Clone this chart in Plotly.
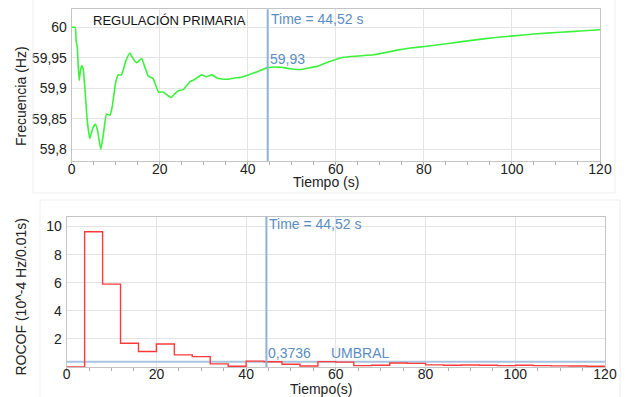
import numpy as np
import plotly.graph_objects as go

# Frequency response (primary regulation)
t_freq = [0, 0.8, 1.0, 1.15, 1.3, 1.45, 1.7, 2.0, 2.3, 2.6, 3.0, 3.5, 4.1, 4.8, 5.4, 5.9,
          6.6, 7.2, 7.9, 8.7, 9.2, 10.0, 10.6, 11.3, 12.3, 13.2, 14.0, 14.8, 15.9, 16.6,
          17.4, 18.5, 19.7, 20.8, 21.7, 22.6, 23.4, 24.2, 25.3, 26.9, 27.8, 28.6, 29.5,
          30.6, 31.8, 32.6, 33.3, 34.5, 35.6, 37.0, 38.3, 40.1, 41.3, 42.4, 44.5, 46.6,
          48.2, 49.6, 51.9, 53.5, 55.7, 57.8, 59.8, 61.7, 65.0, 68.5, 71.5, 74.2, 76.9,
          80.7, 86.0, 91.3, 95.8, 100.4, 104.9, 111.0, 115.5, 120.0]
f_freq = [60.0, 60.0, 59.978, 59.972, 59.966, 59.94, 59.913, 59.93, 59.937, 59.932, 59.9,
          59.85, 59.818, 59.835, 59.841, 59.83, 59.80, 59.825, 59.858, 59.856, 59.87,
          59.91, 59.922, 59.922, 59.945, 59.958, 59.948, 59.942, 59.949, 59.935, 59.920,
          59.916, 59.894, 59.894, 59.889, 59.885, 59.891, 59.896, 59.898, 59.911, 59.914,
          59.918, 59.922, 59.919, 59.922, 59.919, 59.916, 59.915, 59.915, 59.917, 59.918,
          59.922, 59.925, 59.928, 59.934, 59.935, 59.934, 59.932, 59.931, 59.933, 59.936,
          59.942, 59.947, 59.951, 59.953, 59.955, 59.959, 59.963, 59.966, 59.969, 59.974,
          59.979, 59.983, 59.986, 59.989, 59.992, 59.994, 59.996]

# ROCOF steps (value holds from each edge to the next)
t_rocof = [0, 4, 8, 12, 16, 20, 24, 28, 32, 36, 40, 44, 48, 52, 56, 60, 64, 68, 72, 76,
           80, 84, 88, 92, 96, 100, 104, 108, 112, 116, 120]
rocof = [0, 9.63, 5.9, 1.69, 1.1, 1.64, 0.86, 0.74, 0.22, 0.05, 0.42, 0.37, 0.2, 0.07,
         0.38, 0.35, 0.1, 0.12, 0.28, 0.26, 0.15, 0.12, 0.14, 0.12, 0.1, 0.12, 0.1, 0.08,
         0.07, 0.05, 0.05]

cursor_time = 44.52
umbral = 0.3736

freq_ticks = [59.8, 59.85, 59.9, 59.95, 60]
rocof_ticks = [2, 4, 6, 8, 10]
time_ticks = [0, 20, 40, 60, 80, 100, 120]

FONT = "Liberation Sans, Arial, sans-serif"
TXT = "#222222"
BLUE = "#5a8dc2"
CURSOR = "#8cb2d8"
GRID = "#e4e4e4"
FRAME = "#c4c4c4"

def fmt(v, nd):
    return f"{v:.{nd}f}".replace(".", ",")

f_at_cursor = float(np.interp(cursor_time, t_freq, f_freq))

fig = go.Figure()
fig.add_trace(go.Scatter(x=t_freq, y=f_freq, mode="lines",
                         line=dict(color="#3cf23c", width=1.6, shape="spline", smoothing=0.4),
                         xaxis="x", yaxis="y", hoverinfo="skip"))
fig.add_trace(go.Scatter(x=[0, 120], y=[umbral, umbral], mode="lines", line=dict(color="#a8c3e0", width=2.2),
                         xaxis="x2", yaxis="y2", hoverinfo="skip"))
fig.add_trace(go.Scatter(x=t_rocof, y=rocof, mode="lines", line=dict(color="#ff3a3a", width=1.4, shape="hv"),
                         xaxis="x2", yaxis="y2", hoverinfo="skip"))

axis_common = dict(showgrid=True, gridcolor=GRID, gridwidth=1, zeroline=False, showline=True,
                   linecolor=FRAME, linewidth=1, mirror=True, ticks="outside", ticklen=0,
                   automargin=False, tickfont=dict(family=FONT, size=14, color=TXT))
minor_x = dict(ticks="outside", ticklen=3, tickcolor="#b0b0b0", dtick=5, showgrid=False)

fig.update_layout(
    template="none",
    width=627, height=397, margin=dict(l=0, r=0, t=0, b=0, autoexpand=False),
    paper_bgcolor="white", plot_bgcolor="white", showlegend=False,
    separators=", ",
    xaxis=dict(domain=[71.7 / 627, 600 / 627], anchor="y", range=[0, 120], tickvals=time_ticks,
               minor=minor_x, ticklabelstandoff=-5, **axis_common),
    yaxis=dict(domain=[1 - 161 / 397, 1 - 9.3 / 397], anchor="x", range=[59.781, 60.0295],
               tickvals=freq_ticks, ticklabelstandoff=1, **axis_common),
    xaxis2=dict(domain=[66.7 / 627, 605 / 627], anchor="y2", range=[0, 120], tickvals=time_ticks,
                minor=minor_x, ticklabelstandoff=-6, **axis_common),
    yaxis2=dict(domain=[1 - 367 / 397, 1 - 216.7 / 397], anchor="x2", range=[0, 10.7],
                tickvals=rocof_ticks, ticklabelstandoff=1, **axis_common),
)

# faint panel outlines
fig.add_shape(type="rect", xref="paper", yref="paper", x0=33 / 627, x1=615 / 627,
              y0=1 - 193 / 397, y1=1.01, line=dict(color="#efefef", width=1))
fig.add_shape(type="rect", xref="paper", yref="paper", x0=40 / 627, x1=620 / 627,
              y0=-0.01, y1=1 - 200 / 397, line=dict(color="#efefef", width=1))

# time cursors
fig.add_shape(type="line", xref="x", yref="paper", x0=cursor_time, x1=cursor_time,
              y0=1 - 161 / 397, y1=1 - 9.3 / 397, line=dict(color=CURSOR, width=2))
fig.add_shape(type="line", xref="x2", yref="paper", x0=cursor_time, x1=cursor_time,
              y0=1 - 367 / 397, y1=1 - 216.7 / 397, line=dict(color=CURSOR, width=2))

ann_font = dict(family=FONT, size=14, color=BLUE)
cursor_txt = f"Time = {fmt(cursor_time, 2)} s"
annotations = [
    dict(text="REGULACIÓN PRIMARIA", xref="x", yref="paper", x=4.4, y=1 - 20.5 / 397,
         xanchor="left", yanchor="middle", showarrow=False, font=dict(family=FONT, size=13, color="#111111")),
    dict(text=cursor_txt, xref="x", yref="paper", x=cursor_time, y=1 - 18.5 / 397,
         xanchor="left", yanchor="middle", xshift=1, showarrow=False, font=ann_font),
    dict(text=fmt(f_at_cursor, 2), xref="x", yref="y", x=cursor_time, y=f_at_cursor,
         xanchor="left", yanchor="bottom", xshift=0, yshift=-1, showarrow=False, font=ann_font),
    dict(text=cursor_txt, xref="x2", yref="paper", x=cursor_time, y=1 - 224 / 397,
         xanchor="left", yanchor="middle", xshift=1, showarrow=False, font=ann_font),
    dict(text=fmt(umbral, 4), xref="x2", yref="y2", x=cursor_time, y=umbral,
         xanchor="left", yanchor="bottom", xshift=0, yshift=-1, showarrow=False, font=ann_font),
    dict(text="UMBRAL", xref="x2", yref="y2", x=58.4, y=umbral,
         xanchor="left", yanchor="bottom", yshift=-1, showarrow=False, font=ann_font),
    dict(text="Tiempo (s)", xref="paper", yref="paper", x=326 / 627, y=1 - 182 / 397,
         xanchor="center", yanchor="middle", showarrow=False, font=dict(family=FONT, size=14, color=TXT)),
    dict(text="Tiempo(s)", xref="paper", yref="paper", x=321 / 627, y=1 - 388.5 / 397,
         xanchor="center", yanchor="middle", showarrow=False, font=dict(family=FONT, size=14, color=TXT)),
    dict(text="Frecuencia (Hz)", xref="paper", yref="paper", x=21 / 627, y=1 - 96 / 397,
         xanchor="center", yanchor="middle", textangle=-90, showarrow=False, font=dict(family=FONT, size=14, color=TXT)),
    dict(text="ROCOF (10^-4 Hz/0.01s)", xref="paper", yref="paper", x=20 / 627, y=1 - 296.5 / 397,
         xanchor="center", yanchor="middle", textangle=-90, showarrow=False, font=dict(family=FONT, size=14, color=TXT)),
]
fig.update_layout(annotations=annotations)

fig.write_html("out.html")
